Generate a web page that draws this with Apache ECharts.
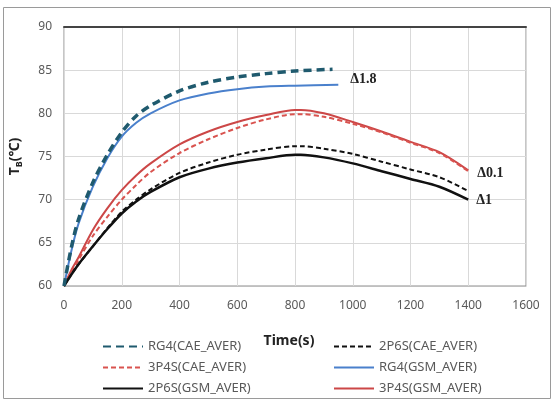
<!DOCTYPE html>
<html>
<head>
<meta charset="utf-8">
<script src="https://cdn.jsdelivr.net/npm/echarts@6/dist/echarts.min.js"></script>
<style>
  html, body { margin: 0; padding: 0; background: #fff; }
  #main { width: 555px; height: 406px; }
</style>
</head>
<body>
<div id="main"></div>
<script>
// time axes (s)
var timeLong = [0, 25, 50, 100, 150, 200, 250, 300, 400, 500, 600, 700, 800, 820, 900, 1000, 1100, 1200, 1300, 1400];
var timeRG4CAE = [0, 25, 50, 100, 150, 200, 250, 300, 400, 500, 600, 700, 800, 930];
var timeRG4GSM = [0, 25, 50, 100, 150, 200, 250, 300, 400, 500, 600, 700, 800, 950];

// temperatures T_B (°C)
var rg4Cae  = [60, 64.4, 67.7, 72.0, 75.2, 77.8, 79.7, 80.9, 82.6, 83.6, 84.2, 84.6, 84.9, 85.1];
var rg4Gsm  = [60, 64.0, 67.2, 71.5, 74.8, 77.3, 78.9, 80.0, 81.5, 82.3, 82.8, 83.1, 83.2, 83.3];
var p34Gsm  = [60, 61.8, 63.3, 66.5, 69.0, 71.1, 72.8, 74.2, 76.4, 77.9, 79.0, 79.8, 80.4, 80.4, 80.0, 79.0, 77.9, 76.7, 75.5, 73.4];
var p34Cae  = [60, 61.5, 63.0, 65.8, 68.0, 70.0, 71.7, 73.2, 75.4, 77.0, 78.3, 79.3, 79.9, 79.9, 79.6, 78.8, 77.8, 76.6, 75.4, 73.3];
var p26Cae  = [60, 61.3, 62.5, 64.6, 66.7, 68.6, 70.0, 71.2, 73.1, 74.3, 75.2, 75.8, 76.2, 76.2, 75.9, 75.3, 74.4, 73.5, 72.6, 71.0];
var p26Gsm  = [60, 61.3, 62.5, 64.6, 66.6, 68.4, 69.8, 70.9, 72.6, 73.6, 74.3, 74.8, 75.2, 75.2, 74.9, 74.2, 73.3, 72.4, 71.5, 70.0];

var xTicks = [0, 200, 400, 600, 800, 1000, 1200, 1400, 1600];
var yTicks = [60, 65, 70, 75, 80, 85, 90];

function pairs(t, v) {
  return t.map(function (x, i) { return [x, v[i]]; });
}

var labelFont = 'Noto Sans';
var deltaStyle = { fontFamily: 'Liberation Serif', fontWeight: 'bold', fontSize: 14, color: '#222' };
var legendText = { fontFamily: labelFont, fontSize: 13, color: '#595959' };

var myChart = echarts.init(document.getElementById('main'));
var option = {
  animation: false,
  backgroundColor: '#fff',
  graphic: [{
    type: 'rect',
    shape: { x: 3.5, y: 7.5, width: 547, height: 391 },
    style: { fill: 'none', stroke: '#9a9a9a', lineWidth: 1 }
  }],
  grid: { left: 64, right: 29, top: 27, bottom: 120, show: true, borderColor: '#8c8c8c', borderWidth: 1 },
  legend: [{
    left: 97, top: 335, orient: 'vertical', itemWidth: 40, itemHeight: 14, itemGap: 8,
    itemStyle: { opacity: 0 }, textStyle: legendText,
    data: ['RG4(CAE_AVER)', '3P4S(CAE_AVER)', '2P6S(GSM_AVER)']
  }, {
    left: 328, top: 335, orient: 'vertical', itemWidth: 40, itemHeight: 14, itemGap: 8,
    itemStyle: { opacity: 0 }, textStyle: legendText,
    data: ['2P6S(CAE_AVER)', 'RG4(GSM_AVER)', '3P4S(GSM_AVER)']
  }],
  xAxis: [{
    type: 'value', min: xTicks[0], max: xTicks[xTicks.length - 1], interval: 200,
    name: 'Time(s)', nameLocation: 'middle', nameGap: 48,
    nameTextStyle: { fontFamily: labelFont, fontWeight: 'bold', fontSize: 14, color: '#222', padding: [0, 12, 0, 0] },
    axisLine: { show: true, lineStyle: { color: '#bfbfbf' } },
    axisTick: { show: false },
    axisLabel: { fontFamily: labelFont, fontSize: 12, color: '#595959', margin: 14, formatter: function (v) { return String(v); } },
    splitLine: { show: true, lineStyle: { color: '#d9d9d9' } }
  }, {
    type: 'value', position: 'top', min: xTicks[0], max: xTicks[xTicks.length - 1], interval: 200,
    axisLine: { show: true, onZero: false, lineStyle: { color: '#444', width: 2 } },
    axisTick: { show: false }, axisLabel: { show: false }, splitLine: { show: false }
  }],
  yAxis: {
    type: 'value', min: yTicks[0], max: yTicks[yTicks.length - 1], interval: 5,
    name: '{a|T}{b|B}{a|(℃)}', nameLocation: 'middle', nameRotate: 90, nameGap: 40,
    nameTextStyle: {
      rich: {
        a: { fontFamily: labelFont, fontWeight: 'bold', fontSize: 14, color: '#222' },
        b: { fontFamily: labelFont, fontWeight: 'bold', fontSize: 9, color: '#222', padding: [8, 0, 0, 0] }
      }
    },
    axisLine: { show: true, lineStyle: { color: '#d9d9d9' } },
    axisTick: { show: false },
    axisLabel: { fontFamily: labelFont, fontSize: 12, color: '#595959', margin: 12 },
    splitLine: { show: true, lineStyle: { color: '#d9d9d9' } }
  },
  series: [{
    name: 'RG4(GSM_AVER)', type: 'line', smooth: 0.3, symbol: 'none',
    data: pairs(timeRG4GSM, rg4Gsm),
    lineStyle: { color: '#4a80cc', width: 2 }, itemStyle: { color: '#4a80cc' },
    endLabel: { show: true, formatter: 'Δ1.8', offset: [4, -5], ...deltaStyle }
  }, {
    name: '3P4S(GSM_AVER)', type: 'line', smooth: 0.3, symbol: 'none',
    data: pairs(timeLong, p34Gsm),
    lineStyle: { color: '#cc4747', width: 2 }, itemStyle: { color: '#cc4747' },
    endLabel: { show: true, formatter: 'Δ0.1', offset: [1, 3], ...deltaStyle }
  }, {
    name: '3P4S(CAE_AVER)', type: 'line', smooth: 0.3, symbol: 'none',
    data: pairs(timeLong, p34Cae),
    lineStyle: { color: '#d9534f', width: 2, type: [5, 3] }, itemStyle: { color: '#d9534f' }
  }, {
    name: '2P6S(GSM_AVER)', type: 'line', smooth: 0.3, symbol: 'none',
    data: pairs(timeLong, p26Gsm),
    lineStyle: { color: '#111', width: 2.5 }, itemStyle: { color: '#111' },
    endLabel: { show: true, formatter: 'Δ1', offset: [0, 1], ...deltaStyle }
  }, {
    name: '2P6S(CAE_AVER)', type: 'line', smooth: 0.3, symbol: 'none',
    data: pairs(timeLong, p26Cae),
    lineStyle: { color: '#111', width: 2, type: [5, 3] }, itemStyle: { color: '#111' }
  }, {
    name: 'RG4(CAE_AVER)', type: 'line', smooth: 0.3, symbol: 'none',
    data: pairs(timeRG4CAE, rg4Cae),
    lineStyle: { color: '#1f5a6e', width: 3.5, type: [8, 5] }, itemStyle: { color: '#1f5a6e' }
  }]
};
myChart.setOption(option);
</script>
</body>
</html>
